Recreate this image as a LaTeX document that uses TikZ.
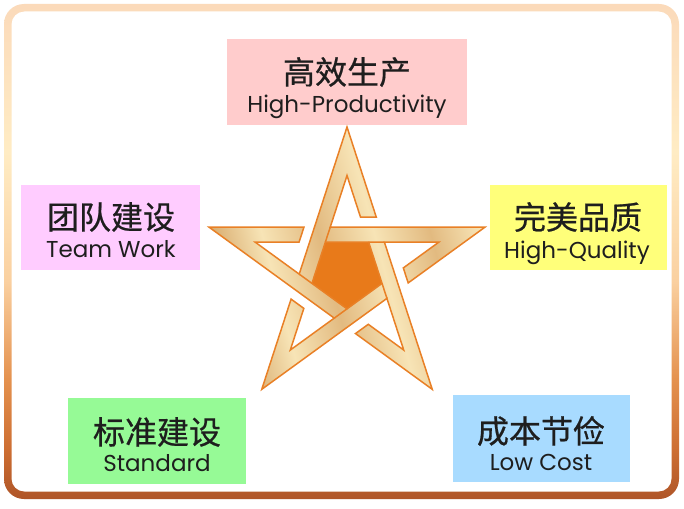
\documentclass[tikz,border=0pt]{standalone}
\usepackage{fontspec}
\newfontfamily\cjkfont{Noto Sans CJK SC}[FakeBold=0.6]
\newfontfamily\enfont{Poppins}
\definecolor{boxpink}{RGB}{255,204,204}
\definecolor{boxlilac}{RGB}{255,204,255}
\definecolor{boxyellow}{RGB}{255,255,122}
\definecolor{boxgreen}{RGB}{150,250,150}
\definecolor{boxblue}{RGB}{168,219,255}
\definecolor{txt}{RGB}{30,30,30}
\definecolor{goldD}{RGB}{210,160,96}
\definecolor{goldM}{RGB}{226,186,128}
\definecolor{goldL}{RGB}{247,228,182}
\definecolor{starline}{RGB}{233,128,38}
\definecolor{pentfill}{RGB}{232,122,26}
\definecolor{frA}{RGB}{175,85,40}
\definecolor{frB}{RGB}{205,110,50}
\definecolor{frC}{RGB}{228,145,78}
\definecolor{frD}{RGB}{250,208,160}
\definecolor{frE}{RGB}{255,236,196}
\definecolor{frF}{RGB}{251,218,186}
\pgfdeclareverticalshading{framesh}{100bp}{color(0bp)=(frA); color(25bp)=(frA); color(30bp)=(frB); color(37bp)=(frC); color(47bp)=(frD); color(60bp)=(frE); color(75bp)=(frF); color(100bp)=(frF)}
\pgfdeclarehorizontalshading{goldsh}{100bp}{color(0bp)=(goldD); color(25bp)=(goldD); color(36bp)=(goldL); color(46bp)=(goldM); color(56bp)=(goldL); color(66bp)=(goldM); color(75bp)=(goldL); color(100bp)=(goldL)}
\begin{document}
\begin{tikzpicture}[x=1pt,y=-1pt,
  labelbox/.style={rectangle, draw=none, inner sep=0pt, outer sep=0pt, minimum width=#1},
  cjktext/.style={font=\cjkfont\fontsize{32}{36}\selectfont, text=txt, inner sep=0pt},
  entext/.style={font=\enfont\fontsize{23}{26}\selectfont, text=txt, inner sep=0pt, anchor=base},
  starline/.style={draw=starline, line width=1.5pt, line join=miter, miter limit=20}]
\useasboundingbox (0,0) rectangle (684,508);
\fill[white] (0,0) rectangle (684,508);
% frame
\shade[shading=framesh] (4,4) [rounded corners=20pt] rectangle (679,499);
\fill[white] (11.5,11.5) [rounded corners=13pt] rectangle (671.5,491.5);
% boxes
\node[labelbox=240pt, minimum height=86pt, fill=boxpink] (bprod) at (347,82) {};
\node[labelbox=179pt, minimum height=85pt, fill=boxlilac] (bteam) at (110.5,227.5) {};
\node[labelbox=177pt, minimum height=85pt, fill=boxyellow] (bqual) at (578.5,227.5) {};
\node[labelbox=178pt, minimum height=86pt, fill=boxgreen] (bstd) at (157,441) {};
\node[labelbox=177pt, minimum height=87pt, fill=boxblue] (bcost) at (541.5,438.5) {};
% texts
\node[cjktext] (cprod) at (347,72) {高效生产};
\node[entext] (eprod) at (347,113) {High-Productivity};
\node[cjktext] (cteam) at (111,217) {团队建设};
\node[entext] (eteam) at (111,257) {Team Work};
\node[cjktext] (cqual) at (578,217) {完美品质};
\node[entext] (equal) at (577,258) {High-Quality};
\node[cjktext] (cstd) at (157,432) {标准建设};
\node[entext] (estd) at (157,471) {Standard};
\node[cjktext] (ccost) at (541,431) {成本节俭};
\node[entext] (ecost) at (541,470) {Low Cost};
% star
\begin{scope}[shift={(347,272)}, yscale=-1]
  \shade[shading=goldsh, shading angle=15]
    (90:145) \foreach \k in {0,...,3} {
      -- ({61.87-72*\k}:62.15) -- ({76.13-72*\k}:56.46) -- ({90-72*\k}:96.47)
      -- ({110.54-72*\k}:47.85) -- ({18-72*\k}:145) }
      -- ({61.87-288}:62.15) -- ({76.13-288}:56.46) -- ({90-288}:96.47)
      -- ({110.54-288}:47.85) -- cycle;
  \fill[pentfill] (54:36.85) -- (-18:36.85) -- (-90:36.85) -- (-162:36.85) -- (126:36.85) -- cycle;
  \draw[starline]
    (90:145) \foreach \k in {0,...,3} {
      -- ({61.87-72*\k}:62.15) -- ({76.13-72*\k}:56.46) -- ({90-72*\k}:96.47)
      -- ({110.54-72*\k}:47.85) -- ({18-72*\k}:145) }
      -- ({61.87-288}:62.15) -- ({76.13-288}:56.46) -- ({90-288}:96.47)
      -- ({110.54-288}:47.85) -- cycle;
  \draw[starline] (54:36.85) -- (-18:36.85) -- (-90:36.85) -- (-162:36.85) -- (126:36.85) -- cycle;
  \foreach \k in {0,...,4}
    \draw[starline, line cap=butt] ({54-72*\k}:36.85) -- ({38.53-72*\k}:47.85);
\end{scope}
\end{tikzpicture}
\end{document}
